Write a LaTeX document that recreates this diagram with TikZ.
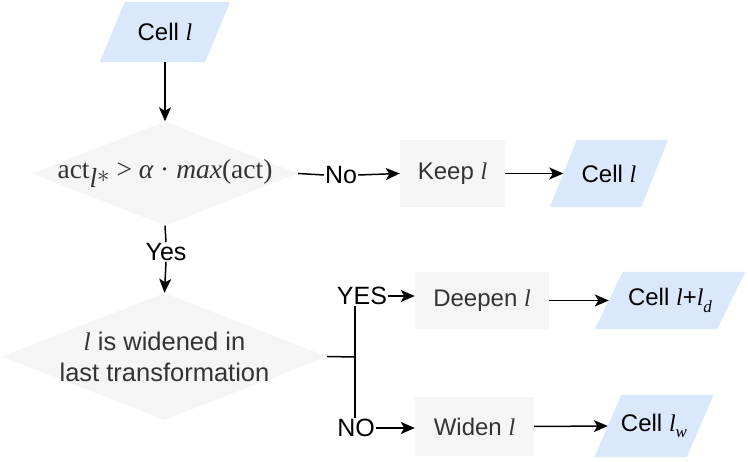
\documentclass[tikz,border=0pt]{standalone}
\usepackage{fontspec}
\setmainfont{Liberation Sans}
\newfontfamily\serif{Liberation Serif}
\usetikzlibrary{shapes.geometric,arrows.meta}
\definecolor{cellblue}{HTML}{DAE8FC}
\definecolor{boxgrey}{HTML}{F5F5F5}
\definecolor{txtgrey}{HTML}{333333}
\newcommand{\vl}{{\serif\itshape l}}
\newcommand{\vsub}[1]{\raisebox{-0.28em}{\serif\itshape\fontsize{17}{17}\selectfont #1}}
\begin{document}
\begin{tikzpicture}[x=1pt,y=-1pt,
  every node/.style={font=\fontsize{24}{28}\selectfont},
  cellnode/.style={rectangle,inner sep=0pt,text=black},
  procbox/.style={rectangle,fill=boxgrey,inner sep=0pt,text=txtgrey},
  decbox/.style={diamond,fill=boxgrey,inner sep=0pt},
  lbl/.style={inner sep=1pt,text=black,font=\fontsize{25}{28}\selectfont},
  conn/.style={line width=1.5pt,draw=black},
  arr/.style={conn,-{Stealth[length=14pt,width=12pt,inset=3.5pt]}}]
\useasboundingbox (0,0) rectangle (748,462);
\newcommand{\cellshape}[3]{% name, edge, slant
  \fill[cellblue] ([xshift=-#3/2]#1.south west) -- ([xshift=-#3/2]#1.south east)
    -- ([xshift=#3/2]#1.north east) -- ([xshift=#3/2]#1.north west) -- cycle;}
\node[cellnode,minimum width=105pt,minimum height=60pt] (c0) at (165,32) {};
\cellshape{c0}{105}{25}
\node[cellnode] at (c0) {Cell \vl};

\node[decbox,minimum width=266pt,minimum height=104pt] (d1) at (165,173.5) {};
\node[text=txtgrey,font=\serif\fontsize{27.5}{30}\selectfont] at (d1) {act\raisebox{-0.3em}{\itshape l}\raisebox{-0.12em}{$\ast$} > {\itshape α} · {\itshape max}(act)};

\node[procbox,minimum width=105pt,minimum height=67pt] (keep) at (452.5,173.5) {Keep \vl};
\node[cellnode,minimum width=91pt,minimum height=67pt] (c1) at (609,173.5) {};
\cellshape{c1}{91}{27}
\node[cellnode] at (c1) {Cell \vl};

\node[lbl] (no1) at (341,175) {No};
\node[lbl] (yes1) at (166,252) {Yes};

\node[decbox,minimum width=325pt,minimum height=127pt] (d2) at (164.5,356.5) {};
\node[text=txtgrey,align=center,font=\fontsize{25.5}{31}\selectfont] at (d2) {\vl{} is widened in\\last transformation};

\node[lbl] (yes2) at (362,296) {YES};
\node[lbl] (no2) at (356,428) {NO};
\coordinate (j) at (355,357);

\node[procbox,minimum width=134pt,minimum height=57pt] (deep) at (482,300.5) {Deepen \vl};
\node[procbox,minimum width=119pt,minimum height=59pt] (wide) at (474.5,426.5) {Widen \vl};

\node[cellnode,minimum width=122pt,minimum height=57pt] (c2) at (670,300.5) {};
\cellshape{c2}{122}{28}
\node[cellnode] at (c2) {Cell \vl+\vl\vsub{d}};

\node[cellnode,minimum width=92pt,minimum height=62pt] (c3) at (654,426) {};
\cellshape{c3}{92}{27}
\node[cellnode] at (c3) {Cell \vl\vsub{w}};

% connectors
\draw[arr] (c0.south) -- (d1.north);
\draw[conn] (d1.east) -- (no1.west);
\draw[arr] (no1.east) -- (keep.west);
\draw[arr] (keep.east) -- (c1.west);
\draw[conn] (d1.south) -- (yes1.north);
\draw[arr] (yes1.south) -- (d2.north);
\draw[conn] (d2.east) -- (j);
\draw[conn] (j |- yes2.south) -- (j |- no2.north);
\draw[arr] (yes2.east) -- (yes2.east -| deep.west);
\draw[arr] (no2.east) -- (no2.east -| wide.west);
\draw[arr] (deep.east) -- (c2.west);
\draw[arr] (wide.east) -- (c3.west);
\end{tikzpicture}
\end{document}
